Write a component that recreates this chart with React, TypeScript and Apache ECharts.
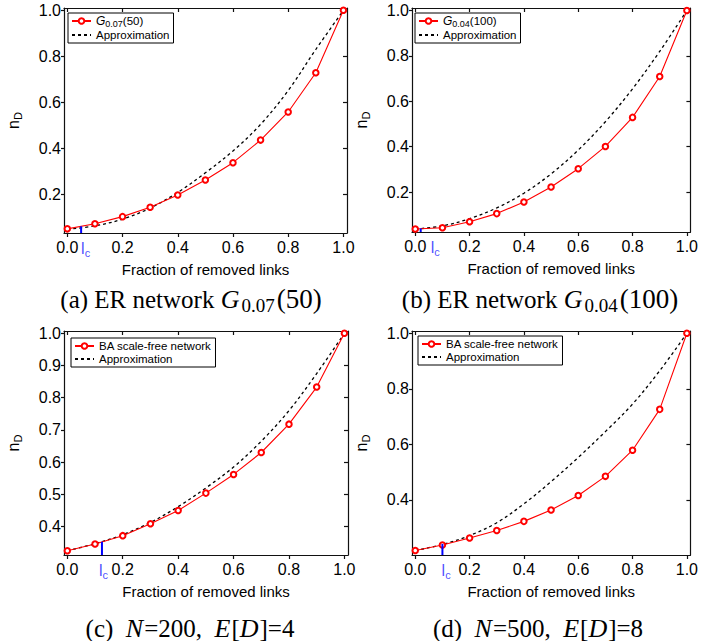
import React, { useEffect, useRef } from 'react';
import * as echarts from 'echarts';

// Fraction of removed links (x values)
const fractions = [0, 0.1, 0.2, 0.3, 0.4, 0.5, 0.6, 0.7, 0.8, 0.9, 1.0];

// (a) ER network G0.07(50)
const erG007Measured = [0.052, 0.074, 0.105, 0.146, 0.199, 0.264, 0.339, 0.437, 0.559, 0.729, 1.0];
const erG007Approx = [0.05, 0.065, 0.094, 0.142, 0.21, 0.295, 0.39, 0.505, 0.652, 0.83, 1.0];
// (b) ER network G0.04(100)
const erG004Measured = [0.037, 0.043, 0.069, 0.105, 0.156, 0.222, 0.303, 0.401, 0.529, 0.709, 1.0];
const erG004Approx = [0.037, 0.051, 0.083, 0.13, 0.195, 0.28, 0.385, 0.51, 0.655, 0.82, 1.0];
// (c) BA N=200, E[D]=4
const ba200Measured = [0.325, 0.346, 0.372, 0.409, 0.45, 0.504, 0.562, 0.63, 0.718, 0.833, 1.0];
const ba200Approx = [0.325, 0.347, 0.375, 0.413, 0.462, 0.52, 0.585, 0.665, 0.76, 0.875, 1.0];
// (d) BA N=500, E[D]=8
const ba500Measured = [0.218, 0.238, 0.263, 0.29, 0.323, 0.364, 0.416, 0.485, 0.579, 0.726, 1.0];
const ba500Approx = [0.218, 0.24, 0.272, 0.318, 0.386, 0.466, 0.553, 0.646, 0.745, 0.865, 1.0];

// critical fraction l_c and the height of its marker
const lcX = [0.05, 0.02, 0.125, 0.1];
const lcTop = [0.063, 0.04, 0.353, 0.242];

// tick labels
const xTickValues = [0, 0.2, 0.4, 0.6, 0.8, 1.0];
const yTicksER = [0.2, 0.4, 0.6, 0.8, 1.0];
const yTicksBA200 = [0.4, 0.5, 0.6, 0.7, 0.8, 0.9, 1.0];
const yTicksBA500 = [0.4, 0.6, 0.8, 1.0];

// axis ranges
const xRange = [-0.012, 1.013];
const yMins = [0.034, 0.024, 0.312, 0.202];
const yMaxs = [1.01, 1.011, 1.007, 1.008];

const seriesNames = ['G007', 'G004', 'BA200', 'BA500'];
const captions = [
  '{r|(a) ER network }{i|G}{s|0.07}{m|(50)}',
  '{r|(b) ER network }{i|G}{s|0.04}{m|(100)}',
  '{r|(c)  }{i|N}{r|=200,  }{i|E}{r|[}{i|D}{r|]=4}',
  '{r|(d)  }{i|N}{r|=500,  }{i|E}{r|[}{i|D}{r|]=8}',
];
const legendLabels: Record<string, string> = {
  G007: '{g|G}{s|0.07}{r|(50)}',
  G004: '{g|G}{s|0.04}{r|(100)}',
  BA200: '{r|BA scale-free network}',
  BA500: '{r|BA scale-free network}',
  Approximation: '{r|Approximation}',
};

const SANS = 'Liberation Sans, Arial, sans-serif';
const SERIF = 'Liberation Serif, Times New Roman, serif';

const grids = [
  { left: 64, top: 8, width: 283, height: 225 },
  { left: 412, top: 8, width: 283, height: 224 },
  { left: 64, top: 331, width: 284, height: 224 },
  { left: 412, top: 331, width: 283, height: 224 },
];
const legendPos = [
  { left: 68, top: 13 },
  { left: 415, top: 13 },
  { left: 71, top: 338 },
  { left: 418, top: 336 },
];
const lcLabelOffset = [4.5, 14.5, 1.5, 3.7];
const captionPos = [
  { x: 191, y: 299 },
  { x: 540, y: 299 },
  { x: 190, y: 628 },
  { x: 538, y: 628 },
];

export default function App() {
  const ref = useRef<HTMLDivElement>(null);
  useEffect(() => {
    if (!ref.current) return;
    const chart = echarts.init(ref.current, undefined, { renderer: 'svg' });
    const measured = [erG007Measured, erG004Measured, ba200Measured, ba500Measured];
    const approx = [erG007Approx, erG004Approx, ba200Approx, ba500Approx];
    const yTicks = [yTicksER, yTicksER, yTicksBA200, yTicksBA500];
    const frame = { color: '#111', width: 1.2 };

    const xAxis: any[] = [];
    const yAxis: any[] = [];
    const series: any[] = [];
    const legend: any[] = [];

    for (let i = 0; i < 4; i++) {
      xAxis.push({
        type: 'value', gridIndex: i, min: xRange[0], max: xRange[1], position: 'bottom',
        axisLine: { show: true, onZero: false, lineStyle: frame },
        axisTick: { show: true, inside: false, length: 4, customValues: xTickValues, lineStyle: frame },
        axisLabel: {
          show: true, customValues: xTickValues, formatter: (v: number) => v.toFixed(1),
          fontSize: 16, color: '#000', fontFamily: SANS, margin: 6,
        },
        splitLine: { show: false },
        name: 'Fraction of removed links', nameLocation: 'middle', nameGap: 29,
        nameTextStyle: { fontSize: 15, color: '#000', fontFamily: SANS },
      });
      xAxis.push({
        type: 'value', gridIndex: i, min: xRange[0], max: xRange[1], position: 'top',
        axisLine: { show: true, onZero: false, lineStyle: frame },
        axisTick: { show: true, inside: true, length: 4, customValues: xTickValues, lineStyle: frame },
        axisLabel: { show: false },
        splitLine: { show: false },
      });
      yAxis.push({
        type: 'value', gridIndex: i, min: yMins[i], max: yMaxs[i], position: 'left',
        axisLine: { show: true, onZero: false, lineStyle: frame },
        axisTick: { show: true, inside: false, length: 3, customValues: yTicks[i], lineStyle: frame },
        axisLabel: {
          show: true, customValues: yTicks[i], formatter: (v: number) => v.toFixed(1),
          fontSize: 16, color: '#000', fontFamily: SANS, margin: 3,
        },
        splitLine: { show: false },
        name: '{n|n}{s|D}', nameLocation: 'middle', nameGap: 41,
        nameTextStyle: {
          color: '#000', fontFamily: SANS,
          rich: {
            n: { fontSize: 16, fontFamily: SANS, color: '#000', lineHeight: 20, verticalAlign: 'middle' },
            s: { fontSize: 11, fontFamily: SANS, color: '#000', lineHeight: 12, verticalAlign: 'bottom' },
          },
        },
      });
      yAxis.push({
        type: 'value', gridIndex: i, min: yMins[i], max: yMaxs[i], position: 'right',
        axisLine: { show: true, onZero: false, lineStyle: frame },
        axisTick: { show: true, inside: true, length: 4, customValues: yTicks[i], lineStyle: frame },
        axisLabel: { show: false },
        splitLine: { show: false },
      });

      series.push({
        type: 'line', name: 'Approximation', xAxisIndex: 2 * i, yAxisIndex: 2 * i,
        data: fractions.map((x, k) => [x, approx[i][k]]),
        smooth: 0.35, symbol: 'none', z: 2,
        lineStyle: { color: '#000', width: 1.3, type: [3, 3] },
        itemStyle: { color: 'rgba(0,0,0,0)', borderColor: 'rgba(0,0,0,0)' },
      });
      series.push({
        type: 'line', name: seriesNames[i], xAxisIndex: 2 * i, yAxisIndex: 2 * i,
        data: fractions.map((x, k) => [x, measured[i][k]]),
        symbol: 'emptyCircle', symbolSize: 5.5, z: 3,
        lineStyle: { color: '#ff0000', width: 1.1 },
        itemStyle: { color: '#ff0000', borderColor: '#ff0000', borderWidth: i < 2 ? 1.6 : 1.1 },
      });
      series.push({
        type: 'line', xAxisIndex: 2 * i, yAxisIndex: 2 * i, silent: true,
        data: [[lcX[i], yMins[i]], [lcX[i], lcTop[i]]],
        symbol: 'none', z: 4,
        lineStyle: { color: '#0000ff', width: 2 },
      });
      series.push({
        type: 'scatter', xAxisIndex: 2 * i, yAxisIndex: 2 * i, silent: true,
        data: [[lcX[i], yMins[i]]],
        symbolSize: 1, itemStyle: { color: 'rgba(0,0,0,0)' },
        label: {
          show: true, position: 'bottom', distance: 5, offset: [lcLabelOffset[i], 0],
          formatter: '{l|l}{c|c}',
          rich: {
            l: { fontSize: 16, color: '#2020ff', fontFamily: SANS, lineHeight: 20, verticalAlign: 'middle' },
            c: { fontSize: 11, color: '#2020ff', fontFamily: SANS, lineHeight: 12, verticalAlign: 'bottom' },
          },
        },
      });

      legend.push({
        show: true, orient: 'vertical', left: legendPos[i].left, top: legendPos[i].top,
        data: [
          seriesNames[i],
          { name: 'Approximation', itemStyle: { color: 'rgba(0,0,0,0)', borderColor: 'rgba(0,0,0,0)' } },
        ],
        itemWidth: 19, itemHeight: 7, itemGap: 1,
        padding: [2, 4, 2, 3],
        borderColor: '#000', borderWidth: 1, backgroundColor: '#fff',
        selectedMode: false,
        formatter: (name: string) => legendLabels[name] || name,
        textStyle: {
          color: '#000', fontFamily: SANS, fontSize: 11.5,
          rich: {
            r: { fontSize: 11.5, fontFamily: SANS, color: '#000', lineHeight: 14, verticalAlign: 'middle' },
            g: { fontSize: 12, fontFamily: SANS, fontStyle: 'italic', color: '#000', lineHeight: 14, verticalAlign: 'middle' },
            s: { fontSize: 9, fontFamily: SANS, color: '#000', lineHeight: 9, verticalAlign: 'bottom' },
          },
        },
      });
    }

    const graphic = captions.map((text, i) => ({
      type: 'text', x: captionPos[i].x, y: captionPos[i].y,
      style: {
        text, textAlign: 'center', textVerticalAlign: 'middle', fill: '#000',
        rich: {
          r: { fontSize: 25, fontFamily: SERIF, fill: '#000', lineHeight: 32, verticalAlign: 'middle' },
          m: { fontSize: 27, fontFamily: SERIF, fill: '#000', lineHeight: 32, verticalAlign: 'middle' },
          i: { fontSize: 26, fontFamily: SERIF, fontStyle: 'italic', fill: '#000', lineHeight: 32, verticalAlign: 'middle', padding: [0, 1, 0, 0] },
          s: { fontSize: 19, fontFamily: SERIF, fill: '#000', lineHeight: 17, verticalAlign: 'bottom', padding: [0, 2, 0, 1] },
        },
      },
    }));

    chart.setOption({
      animation: false,
      backgroundColor: '#fff',
      grid: grids.map((g) => ({ ...g, containLabel: false })),
      xAxis, yAxis, series, legend, graphic,
    });
    return () => chart.dispose();
  }, []);
  return (
    <div
      ref={ref}
      style={{ position: 'fixed', left: 0, top: 0, width: 701, height: 641, background: '#fff' }}
    />
  );
}
